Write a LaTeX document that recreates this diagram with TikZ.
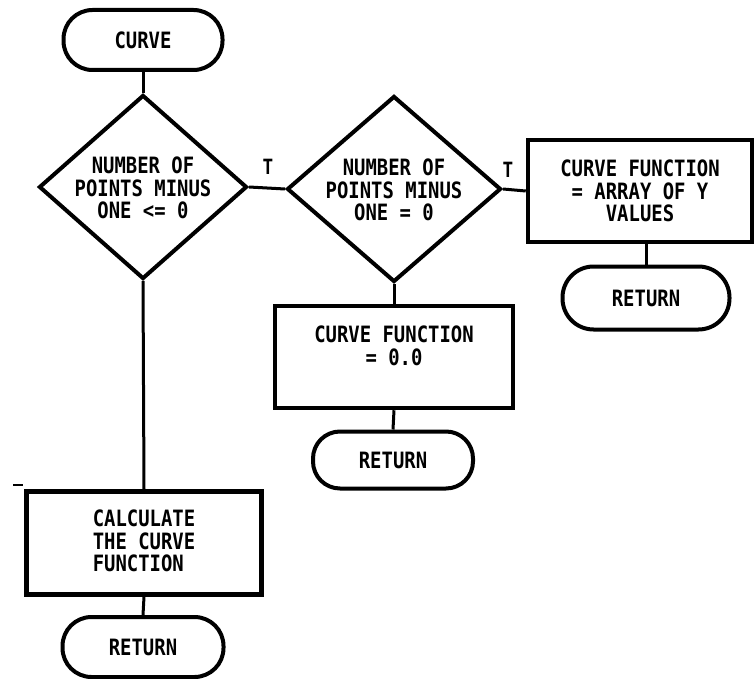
\documentclass[tikz,border=0pt]{standalone}
\usepackage{fontspec}
\setmonofont[FakeStretch=0.84]{DejaVu Sans Mono}
\usetikzlibrary{shapes.geometric}
\tikzset{
  every node/.style={font=\ttfamily\bfseries\fontsize{22.5}{22.5}\selectfont},
  term/.style={draw, line width=4pt, rectangle, rounded corners=29pt, minimum width=#1, minimum height=60pt, inner sep=0pt},
  proc/.style={draw, line width=4.5pt, rectangle, inner sep=0pt},
  dec/.style={draw, line width=4pt, diamond, inner sep=0pt},
  txt/.style={align=center, inner sep=0pt},
  conn/.style={line width=3pt},
  lbl/.style={inner sep=0pt, font=\ttfamily\bfseries\fontsize{21}{21}\selectfont}
}
\begin{document}
\begin{tikzpicture}[x=1pt,y=-1pt]
\useasboundingbox (0,0) rectangle (755,679);
% terminators
\node[term=159pt] (start) at (143,40) {CURVE};
\node[term=161pt] (ret1) at (143,647) {RETURN};
\node[term=160pt, minimum height=57pt, rounded corners=27pt] (ret2) at (393,460) {RETURN};
\node[term=167pt, minimum height=63pt, rounded corners=31pt] (ret3) at (646,298) {RETURN};
% decisions
\node[dec, minimum width=208pt, minimum height=184pt] (d1) at (143,187) {};
\node[txt] at (143,188) {NUMBER OF\\POINTS MINUS\\ONE <= 0};
\node[dec, minimum width=214pt, minimum height=186pt] (d2) at (394,189) {};
\node[txt] at (394,190) {NUMBER OF\\POINTS MINUS\\ONE = 0};
% processes
\node[proc, minimum width=224pt, minimum height=102pt] (b3) at (640,191) {};
\node[txt] at (640,191) {CURVE FUNCTION\\= ARRAY OF Y\\VALUES};
\node[proc, minimum width=238pt, minimum height=102pt] (b2) at (394,357) {};
\node[txt] at (394,346) {CURVE FUNCTION\\= 0.0};
\node[proc, minimum width=235pt, minimum height=103pt] (b1) at (144,543) {};
\node[txt, align=left] at (144,541) {CALCULATE\\THE CURVE\\FUNCTION};
% connectors
\draw[conn] (start.south) -- (d1.north);
\draw[conn] (d1.east) -- (d2.west);
\draw[conn] (d2.east) -- (b3.west);
\draw[conn] (ret3.north |- b3.south) -- (ret3.north);
\draw[conn] (d2.south) -- (b2.north);
\draw[conn] (b2.south) -- (ret2.north);
\draw[conn] (d1.south) -- (b1.north);
\draw[conn] (b1.south) -- (ret1.north);
% labels
\node[lbl] (t1) at (268,167) {T};
\node[lbl] (t2) at (508,170) {T};
% stray mark
\coordinate (m1) at (13,485);
\coordinate (m2) at (23,485);
\draw[line width=2.5pt] (m1) -- (m2);
\end{tikzpicture}
\end{document}
